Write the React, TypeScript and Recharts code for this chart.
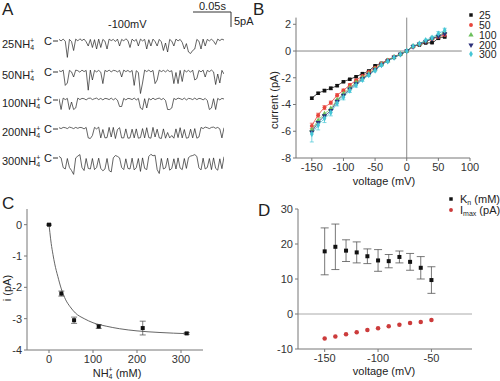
import React from "react";
import {
  LineChart,
  Line,
  ComposedChart,
  XAxis,
  YAxis,
  ReferenceLine,
  ErrorBar,
  Symbols,
} from "recharts";

// ---- panel A: single channel traces at -100 mV (pA, 0 = closed level)
const trace25 = [0.2, -0.3, 0.3, -0.4, -5.8, 0.2, -0.5, -3.5, 0.3, -0.3, 0.4, -0.2, 0.3, -0.6, -2, 0.2, -2.5, 0.1, -3, 0.3, -2.5, 0.2, -0.4, -3, 0.3, -0.2, 0.2, -0.5, 0.3, -2, 0.2, -0.3, 0.4, -0.2, -2.5, 0.3, -0.4, 0.2, -2, 0.3, -0.3, 0.2, -3, 0.1, -2, 0.3, -0.5, -2, 0.2, -0.6, -3.5, -1, -4, 0.2, -0.4, -2, 0.3, -0.3, 0.2, -0.8, -3, -1.2, -4, -4.5, -3.5, -3, 0.2, -0.4, -3, 0.3, -2, 0.2, -0.3, 0.3, -0.4, -1.5, 0.3, -0.2, 0.3, 0];
const trace50 = [0.1, -0.2, 0.3, -4.8, -4, 0.2, -0.3, -2, 0.3, 0.1, -0.4, 0.3, -0.2, 0.2, -6.4, 0.3, -3, 0.2, -0.3, 0.2, -0.4, -4.2, 0.2, -0.2, 0.3, -0.3, 0.2, 0.1, -0.3, 0.2, -2, 0.3, -0.2, 0.2, -0.4, 0.2, -4.8, 0.1, -0.5, -7.5, -4, 0.3, -0.2, 0.3, -0.3, 0.2, -4.2, -3, 0.3, -0.2, 0.2, -0.3, 0.3, -0.2, 0.1, -4.2, -0.5, -4.2, 0.2, -3.5, 0.3, -0.3, 0.2, -0.4, 0.3, -3, -2.5, 0.2, -0.3, 0.3, -2, 0.2, -0.2, 0.3, -0.3, -4.5, -1, -4, 0.2, -1];
const trace100 = [0.1, -3.5, 0.3, -0.2, 0.2, -3.5, -1, -3.5, -3, 0.3, -0.2, 0.2, 0.1, -0.3, 0.2, 0.3, -0.2, 0.1, 0.3, -0.2, 0.2, -0.3, 0.2, 0.1, -0.2, 0.3, -0.3, 0.2, -0.4, -2.5, -2.5, 0.2, -0.3, 0.2, 0.1, -0.2, 0.3, -0.3, 0.2, -3, -3.5, 0.1, -3, 0.2, -0.3, 0.3, -0.2, 0.1, 0.3, -0.2, 0.2, -0.5, -3.5, -3.5, -3, 0.2, -0.2, 0.3, 0.1, -0.2, 0.3, -0.3, 0.2, 0.1, -0.2, 0.3, -0.2, 0.2, 0.1, -0.3, 0.2, -0.5, -3.5, -3, 0.1, -3.5, 0.2, -0.3, 0.2, 0];
const trace200 = [0.1, -0.2, 0.2, 0.1, -0.2, 0.3, 0.1, -0.2, 0.2, -0.1, 0.2, 0.1, -0.3, 0.2, -3.3, -3.5, -2.5, 0.2, -0.3, 0.3, -3.3, -0.5, -3.3, -3.2, 0.2, -3, 0.2, -3.5, -0.5, 0.1, -3.3, -3.3, -0.3, -3.4, -3.3, -0.4, -3.3, -0.3, -3.4, -3.2, -0.2, -3.3, 0.1, -3.2, -3.4, 0.2, -3, -0.4, -3.3, -3.5, -0.3, -3.4, -1.5, -3.3, -2.5, -3.4, -0.3, -3.2, 0.1, -3.3, -0.5, -3.4, -3.2, -0.4, -3.3, -0.2, -3.4, -3, 0.2, -0.2, 0.3, 0.1, -0.2, 0.2, 0.3, -0.1, 0.2, -0.3, -3.3, 0.1];
const trace300 = [0.2, -0.3, -3.5, -4, -0.5, -3.5, -4.5, -5.8, -0.3, 0.3, 0.8, -3.5, -4.5, -0.5, -3.8, -4, -0.5, -4.2, -3.5, -0.4, -3.8, -4.6, -4, -0.5, -4.5, -5, -0.3, 0.5, 0.2, -0.3, -3.5, -4.2, -0.6, -3.8, -4, -0.4, -4.3, -3.6, -0.5, -4.8, -0.3, -3.8, -4.2, 0.2, 0.9, 0.4, 0.6, -4.2, -5.5, -0.5, -4, -3.6, -0.4, -4.4, -3.8, -0.6, -4, -0.3, -3.7, -4.2, -0.5, -3.8, -0.2, 0.3, 0.5, 0.8, 0.2, -3.6, -4.3, -0.4, -4, -3.5, -0.5, -4.2, -0.3, -3.8, -4.4, -0.6, -3.9, 0.1];
const traceLabels = ["25", "50", "100", "200", "300"];
const traceSets = [trace25, trace50, trace100, trace200, trace300];
const traceBaselines = [40, 71, 99, 128, 157];

// ---- panel B: I-V curves
const voltages = [-150, -140, -130, -120, -110, -100, -90, -80, -70, -60, -50, -40, -30, -20, -10, 0, 10, 20, 30, 40, 50, 60];
const iv25 = [-3.53, -3.16, -2.96, -2.79, -2.59, -2.3, -2.11, -1.92, -1.69, -1.49, -1.1, -0.92, -0.7, -0.48, -0.25, 0, 0.35, 0.45, 0.6, 0.62, 0.95, 1.05];
const iv50 = [-5.6, -4.8, -4.23, -3.86, -3.31, -2.94, -2.54, -2.19, -1.87, -1.57, -1.24, -0.92, -0.67, -0.42, -0.22, 0, 0.3, 0.5, 0.7, 0.9, 1.05, 1.2];
const iv100 = [-5.9, -5.2, -4.7, -4.3, -3.65, -3.2, -2.75, -2.35, -2.0, -1.7, -1.35, -1.0, -0.72, -0.45, -0.22, 0, 0.35, 0.55, 0.75, 0.95, 1.15, 1.4];
const iv200 = [-6.05, -5.35, -4.85, -4.45, -3.75, -3.3, -2.85, -2.45, -2.08, -1.75, -1.4, -1.02, -0.74, -0.47, -0.24, 0, 0.33, 0.52, 0.72, 0.92, 1.1, 1.3];
const iv300 = [-6.2, -5.55, -5.05, -4.6, -3.9, -3.45, -2.95, -2.55, -2.15, -1.8, -1.45, -1.05, -0.76, -0.48, -0.24, 0, 0.35, 0.55, 0.8, 1.0, 1.3, 1.55];
const err25 = [0.08, 0.08, 0.1, 0.1, 0.08, 0.06, 0.06, 0.05, 0.05, 0.05, 0.04, 0.04, 0.03, 0.03, 0.02, 0, 0.03, 0.03, 0.04, 0.05, 0.06, 0.06];
const err50 = [0.2, 0.15, 0.15, 0.12, 0.12, 0.1, 0.1, 0.08, 0.08, 0.06, 0.06, 0.05, 0.04, 0.04, 0.03, 0, 0.04, 0.05, 0.06, 0.08, 0.1, 0.1];
const err300 = [0.6, 0.35, 0.3, 0.25, 0.2, 0.2, 0.15, 0.15, 0.12, 0.1, 0.1, 0.1, 0.08, 0.05, 0.05, 0, 0.05, 0.05, 0.08, 0.1, 0.15, 0.15];

// ---- panel C: current vs NH4+ at -100 mV
const cConc = [0, 28, 57, 113, 213, 313];
const cCurrent = [0, -2.2, -3.05, -3.25, -3.3, -3.47];
const cErr = [0.02, 0.08, 0.1, 0.06, 0.22, 0.03];
const fitConc = [0, 2, 5, 9, 13, 20, 28, 38, 48, 60, 80, 100, 130, 160, 200, 250, 316];
const fitCurrent = [0, -0.25, -0.6, -0.95, -1.25, -1.65, -2.05, -2.4, -2.62, -2.82, -3.0, -3.13, -3.24, -3.32, -3.39, -3.44, -3.48];

// ---- panel D: Km and Imax vs voltage
const dVolt = [-150, -140, -130, -120, -110, -100, -90, -80, -70, -60, -50];
const kn = [17.9, 19.2, 18.1, 17.6, 16.5, 15.3, 15.1, 16.3, 14.9, 13.2, 9.7];
const knErr = [6.7, 6.5, 3.1, 3.0, 2.1, 3.1, 1.9, 1.7, 2.4, 3.2, 3.8];
const imax = [-7.0, -6.4, -5.8, -5.2, -4.6, -4.1, -3.5, -3.1, -2.6, -2.3, -1.7];

const FONT = '"Liberation Sans", Arial, sans-serif';
const AXIS = "#777";
const TICK = { fontSize: 11, fill: "#333", fontFamily: FONT };

const ivSeries = [
  { key: "i25", err: "e25", name: "25", color: "#111111", shape: "square" },
  { key: "i50", err: "e50", name: "50", color: "#e8453c", shape: "circle" },
  { key: "i100", err: null, name: "100", color: "#6cc05c", shape: "triangle" },
  { key: "i200", err: null, name: "200", color: "#2b2f7a", shape: "triangle-down" },
  { key: "i300", err: "e300", name: "300", color: "#45c6d6", shape: "diamond" },
];
const legendY = [15, 25, 35, 45, 54];

const ivRows = voltages.map((v, i) => ({
  v,
  i25: iv25[i],
  i50: iv50[i],
  i100: iv100[i],
  i200: iv200[i],
  i300: iv300[i],
  e25: err25[i],
  e50: err50[i],
  e300: err300[i],
}));
const cRows = cConc.map((c, i) => ({ c, i: cCurrent[i], e: cErr[i] }));
const fitRows = fitConc.map((c, i) => ({ c, i: fitCurrent[i] }));
const dRows = dVolt.map((v, i) => ({ v, kn: kn[i], knErr: knErr[i], imax: imax[i] }));

function Marker({ cx, cy, shape, color, size = 14 }: any) {
  if (cx == null || cy == null) return null;
  if (shape === "triangle-down") {
    return (
      <g transform={`rotate(180 ${cx} ${cy})`}>
        <Symbols cx={cx} cy={cy} type="triangle" size={size} fill={color} />
      </g>
    );
  }
  return <Symbols cx={cx} cy={cy} type={shape} size={size} fill={color} />;
}

function NH4({ n }: { n?: string }) {
  return (
    <span>
      {n}NH<sub style={{ fontSize: 7, verticalAlign: -2 }}>4</sub>
      <sup style={{ fontSize: 7, verticalAlign: 5, marginLeft: -4 }}>+</sup>
    </span>
  );
}

const abs = (left: number, top: number, extra: any = {}) => ({
  position: "absolute" as const,
  left,
  top,
  whiteSpace: "nowrap" as const,
  lineHeight: "12px",
  ...extra,
});

export default function App() {
  return (
    <div
      style={{
        position: "absolute",
        left: 0,
        top: 0,
        width: 500,
        height: 381,
        background: "#fff",
        fontFamily: FONT,
        color: "#222",
        fontSize: 11,
        overflow: "hidden",
      }}
    >
      {/* ---------- A ---------- */}
      <div style={abs(2, 2, { fontSize: 17, lineHeight: "16px" })}>A</div>
      <div style={abs(199, 0, { fontSize: 11 })}>0.05s</div>
      <div style={abs(234, 15, { fontSize: 11 })}>5pA</div>
      <svg style={abs(0, 0)} width={240} height={30}>
        <line x1={193} y1={12} x2={231} y2={12} stroke="#333" strokeWidth={1} />
        <line x1={231} y1={12} x2={231} y2={27} stroke="#333" strokeWidth={1} />
      </svg>
      <div style={abs(108, 18, { fontSize: 11 })}>-100mV</div>
      {traceSets.map((tr, k) => {
        const y0 = traceBaselines[k];
        const rows = tr.map((v, i) => ({ i, v }));
        return (
          <React.Fragment key={k}>
            <div style={abs(2, y0 - 5, { fontSize: 11 })}>
              <NH4 n={traceLabels[k]} />
            </div>
            <div style={abs(44, y0 - 5, { fontSize: 11 })}>C</div>
            <svg style={abs(53, y0)} width={6} height={2}>
              <line x1={0} y1={1} x2={5} y2={1} stroke="#333" strokeWidth={1} />
            </svg>
            <div style={abs(59, y0 - 6)}>
              <LineChart width={165} height={30} data={rows} margin={{ top: 0, right: 0, left: 0, bottom: 0 }}>
                <XAxis dataKey="i" type="number" domain={[0, 79]} hide />
                <YAxis domain={[-8, 2]} hide />
                <Line dataKey="v" stroke="#222" strokeWidth={0.7} dot={false} isAnimationActive={false} />
              </LineChart>
            </div>
          </React.Fragment>
        );
      })}

      {/* ---------- B ---------- */}
      <div style={abs(253, 2, { fontSize: 17, lineHeight: "16px" })}>B</div>
      <div style={abs(250, 0)}>
        <ComposedChart width={250} height={190} data={ivRows} margin={{ top: 17.6, right: 30, left: 10, bottom: 2 }}>
          <XAxis
            dataKey="v"
            type="number"
            domain={[-175, 100]}
            ticks={[-150, -100, -50, 0, 50, 100]}
            tick={TICK}
            tickSize={3}
            height={30}
            stroke={AXIS}
          />
          <YAxis
            type="number"
            domain={[-8, 2.5]}
            ticks={[-8, -6, -4, -2, 0, 2]}
            tick={TICK}
            tickSize={3}
            width={36}
            stroke={AXIS}
          />
          <ReferenceLine x={0} stroke="#888" />
          <ReferenceLine segment={[{ x: -175, y: 0 }, { x: 87, y: 0 }]} stroke="#888" />
          {ivSeries.map((s) => (
            <Line
              key={s.key}
              dataKey={s.key}
              stroke={s.color}
              strokeWidth={0.8}
              type="monotone"
              isAnimationActive={false}
              dot={(p: any) => <Marker key={p.index} cx={p.cx} cy={p.cy} shape={s.shape} color={s.color} size={12} />}
            >
              {s.err && <ErrorBar dataKey={s.err} width={2} stroke={s.color} strokeWidth={0.7} />}
            </Line>
          ))}
        </ComposedChart>
      </div>
      {ivSeries.map((s, k) => (
        <React.Fragment key={s.key}>
          <svg style={abs(467, legendY[k] - 4)} width={8} height={8}>
            <Marker cx={4} cy={4} shape={s.shape} color={s.color} size={12} />
          </svg>
          <div style={abs(479, legendY[k] - 5, { fontSize: 10.5, lineHeight: "10px" })}>{s.name}</div>
        </React.Fragment>
      ))}
      <div style={abs(274, 100, { transform: "translate(-50%,-50%) rotate(-90deg)", fontSize: 11 })}>current (pA)</div>
      <div style={abs(384, 181, { transform: "translate(-50%,-50%)", fontSize: 11 })}>voltage (mV)</div>

      {/* ---------- C ---------- */}
      <div style={abs(2, 196, { fontSize: 17, lineHeight: "16px" })}>C</div>
      <div style={abs(0, 190)}>
        <ComposedChart width={250} height={191} margin={{ top: 19, right: 47, left: 5, bottom: 11 }}>
          <XAxis
            dataKey="c"
            type="number"
            domain={[-50, 350]}
            ticks={[0, 100, 200, 300]}
            tick={TICK}
            tickSize={3}
            height={20}
            stroke={AXIS}
            allowDuplicatedCategory={false}
          />
          <YAxis
            type="number"
            domain={[-4, 0.5]}
            ticks={[-4, -3, -2, -1, 0]}
            tick={TICK}
            tickSize={3}
            width={22}
            stroke={AXIS}
          />
          <Line data={fitRows} dataKey="i" stroke="#555" strokeWidth={0.9} type="monotone" dot={false} isAnimationActive={false} />
          <Line
            data={cRows}
            dataKey="i"
            stroke="none"
            isAnimationActive={false}
            dot={(p: any) => <Marker key={p.index} cx={p.cx} cy={p.cy} shape="square" color="#111" size={16} />}
          >
            <ErrorBar dataKey="e" width={3} stroke="#444" strokeWidth={0.7} />
          </Line>
        </ComposedChart>
      </div>
      <div style={abs(7, 288, { transform: "translate(-50%,-50%) rotate(-90deg)", fontSize: 11 })}>i (pA)</div>
      <div style={abs(117, 373, { transform: "translate(-50%,-50%)", fontSize: 11 })}>
        <NH4 /> (mM)
      </div>

      {/* ---------- D ---------- */}
      <div style={abs(258, 203, { fontSize: 17, lineHeight: "16px" })}>D</div>
      <div style={abs(250, 190)}>
        <ComposedChart width={250} height={191} data={dRows} margin={{ top: 19, right: 28, left: 18, bottom: 12 }}>
          <XAxis
            dataKey="v"
            type="number"
            domain={[-175, -12]}
            ticks={[-150, -100, -50]}
            tick={TICK}
            tickSize={3}
            height={20}
            stroke={AXIS}
          />
          <YAxis
            type="number"
            domain={[-10, 30]}
            ticks={[-10, 0, 10, 20, 30]}
            tick={TICK}
            tickSize={3}
            width={30}
            stroke={AXIS}
          />
          <ReferenceLine y={0} stroke="#aaa" />
          <Line
            dataKey="kn"
            stroke="none"
            isAnimationActive={false}
            dot={(p: any) => <Marker key={p.index} cx={p.cx} cy={p.cy} shape="square" color="#111" size={16} />}
          >
            <ErrorBar dataKey="knErr" width={4} stroke="#555" strokeWidth={0.8} />
          </Line>
          <Line
            dataKey="imax"
            stroke="none"
            isAnimationActive={false}
            dot={(p: any) => <Marker key={p.index} cx={p.cx} cy={p.cy} shape="circle" color="#cc3b3b" size={16} />}
          />
        </ComposedChart>
      </div>
      <svg style={abs(447, 195)} width={8} height={20}>
        <Marker cx={4} cy={4} shape="square" color="#111" size={12} />
        <Marker cx={4} cy={15} shape="circle" color="#cc3b3b" size={12} />
      </svg>
      <div style={abs(460, 193, { fontSize: 11 })}>
        K<sub style={{ fontSize: 7, verticalAlign: -2 }}>n</sub> (mM)
      </div>
      <div style={abs(460, 204, { fontSize: 11 })}>
        I<sub style={{ fontSize: 7, verticalAlign: -2 }}>max</sub> (pA)
      </div>
      <div style={abs(384, 371, { transform: "translate(-50%,-50%)", fontSize: 11 })}>voltage (mV)</div>
    </div>
  );
}
